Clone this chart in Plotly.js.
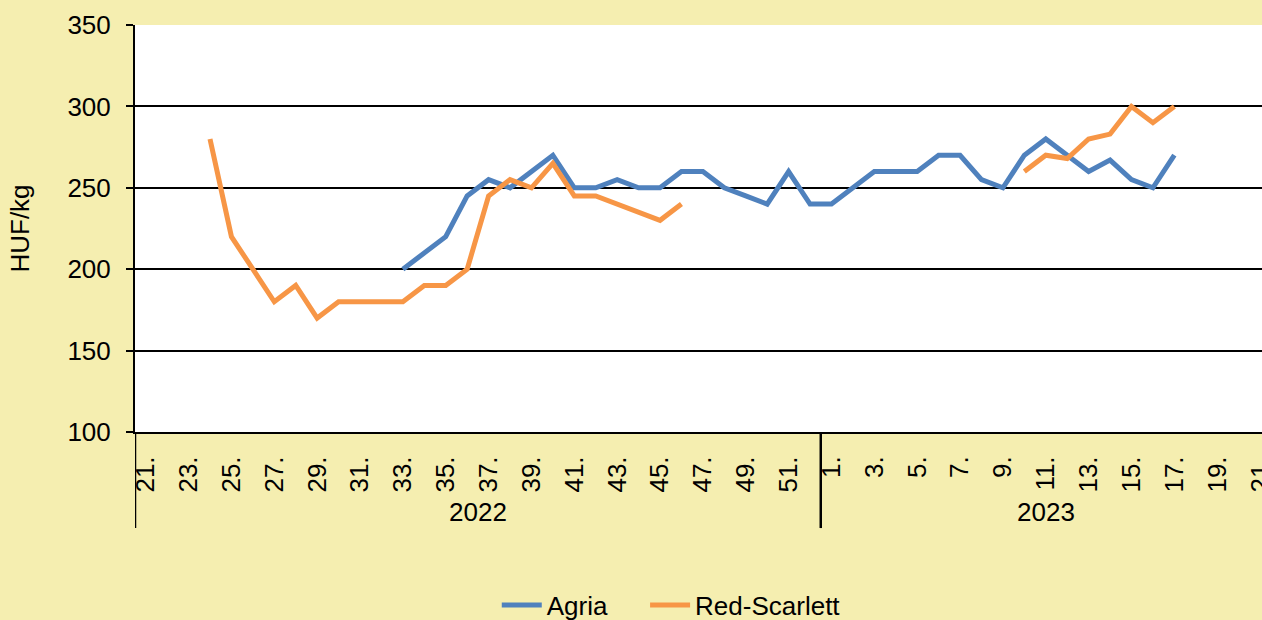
<!DOCTYPE html>
<html>
<head>
<meta charset="utf-8">
<script src="https://cdn.plot.ly/plotly-3.0.1.min.js"></script>
<style>html,body{margin:0;padding:0;background:#F5EEB0;}</style>
</head>
<body>
<div id="chart" style="width:1262px;height:620px;"></div>
<script>
// Categories: ISO weeks, 2022 week 21..52 and 2023 week 1..21
const years = ["2022", "2023"];
const weeks2022 = [21,22,23,24,25,26,27,28,29,30,31,32,33,34,35,36,37,38,39,40,41,42,43,44,45,46,47,48,49,50,51,52];
const weeks2023 = [1,2,3,4,5,6,7,8,9,10,11,12,13,14,15,16,17,18,19,20,21];

// Agria prices (HUF/kg), null = no data
const agria2022 = [null,null,null,null,null,null,null,null,null,null,null,null,
  200,210,220,245,255,250,260,270,250,250,255,250,250,260,260,250,245,240,260,240];
const agria2023 = [240,250,260,260,260,270,270,255,250,270,280,270,260,267,255,250,270,null,null,null,null];

// Red-Scarlett prices (HUF/kg)
const red2022 = [null,null,null,280,220,200,180,190,170,180,180,180,
  180,190,190,200,245,255,250,265,245,245,240,235,230,240,null,null,null,null,null,null];
const red2023 = [null,null,null,null,null,null,null,null,null,260,270,268,280,283,300,290,300,null,null,null,null];

const seriesNames = ["Agria", "Red-Scarlett"];
const colors = ["#4F81BD", "#F79646"];

const cats = weeks2022.map(w => years[0] + "|" + w).concat(weeks2023.map(w => years[1] + "|" + w));
const weekLabels = weeks2022.concat(weeks2023).map(w => w + ".");
const tickvals = cats.filter((c, i) => i % 2 === 0);
const ticktext = weekLabels.filter((c, i) => i % 2 === 0);

const font = "Liberation Sans, Arial, sans-serif";
const fs = 26;

const traces = [
  {x: cats, y: agria2022.concat(agria2023), name: seriesNames[0], legend: "legend"},
  {x: cats, y: red2022.concat(red2023), name: seriesNames[1], legend: "legend2"}
].map((t, k) => Object.assign(t, {
  type: "scatter", mode: "lines", connectgaps: false,
  line: {color: colors[k], width: 5, shape: "linear"},
  hoverinfo: "x+y+name"
}));

const n2022 = weeks2022.length;
const nAll = cats.length;
const below = -0.236;

const legendBase = {orientation: "h", xref: "paper", xanchor: "left",
  yref: "container", y: 0.024, yanchor: "middle",
  font: {family: font, size: fs, color: "#000"}, bgcolor: "rgba(0,0,0,0)", itemwidth: 40};

const layout = {
  width: 1262, height: 620,
  paper_bgcolor: "#F5EEB0",
  plot_bgcolor: "#FFFFFF",
  margin: {l: 135, r: 0, t: 25, b: 188, pad: 0},
  font: {family: font, size: fs, color: "#000"},
  showlegend: true,
  legend: Object.assign({}, legendBase, {x: 0.321}),
  legend2: Object.assign({}, legendBase, {x: 0.4526}),
  xaxis: {
    type: "category", categoryorder: "array", categoryarray: cats,
    range: [-0.5, nAll - 0.5 - 0.41],
    tickmode: "array", tickvals: tickvals, ticktext: ticktext,
    tickangle: -90, ticks: "", showgrid: false, zeroline: false,
    showline: true, linecolor: "#000", linewidth: 2,
    tickfont: {family: font, size: fs, color: "#000"},
    ticklabelstandoff: 12
  },
  yaxis: {
    range: [100, 350], tickvals: [100,150,200,250,300,350],
    ticks: "outside", ticklen: 7, tickwidth: 2, tickcolor: "#000",
    showgrid: true, gridcolor: "#000", gridwidth: 2,
    showline: true, linecolor: "#000", linewidth: 2, zeroline: false,
    tickfont: {family: font, size: fs, color: "#000"},
    ticklabelstandoff: 10,
    title: {text: "HUF/kg", font: {family: font, size: fs, color: "#000"}, standoff: 30}
  },
  shapes: [
    {type: "line", xref: "x", yref: "paper", x0: -0.5, x1: -0.5, y0: below, y1: 0, line: {color: "#000", width: 2.5}},
    {type: "line", xref: "x", yref: "paper", x0: n2022 - 0.5, x1: n2022 - 0.5, y0: below, y1: 0, line: {color: "#000", width: 2.5}}
  ],
  annotations: [
    {xref: "x", yref: "paper", x: (n2022 - 1) / 2, y: -0.197, text: years[0], showarrow: false,
     font: {family: font, size: fs, color: "#000"}, yanchor: "middle"},
    {xref: "x", yref: "paper", x: n2022 + (nAll - n2022 - 1) / 2, y: -0.197, text: years[1], showarrow: false,
     font: {family: font, size: fs, color: "#000"}, yanchor: "middle"}
  ]
};

Plotly.newPlot("chart", traces, layout, {displayModeBar: false, responsive: false});
</script>
</body>
</html>
